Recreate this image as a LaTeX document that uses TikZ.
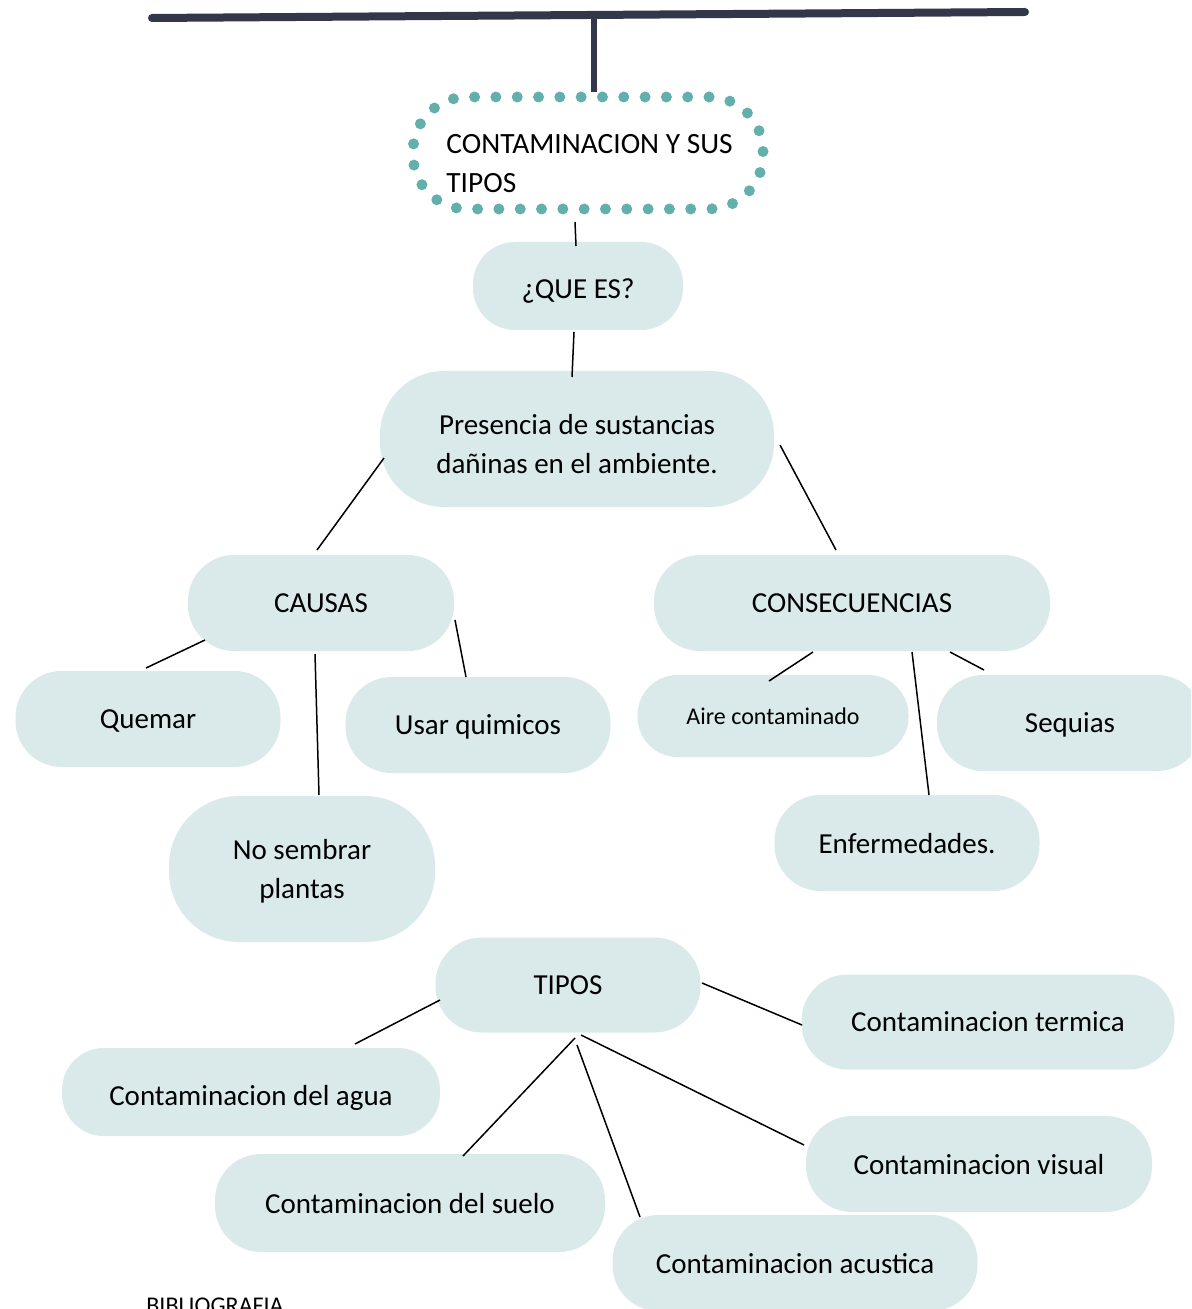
\documentclass[tikz,border=0pt]{standalone}
\usepackage{fontspec}
\setmainfont{Carlito}
\definecolor{pillfill}{HTML}{DAEAEA}
\definecolor{dotcol}{HTML}{63AFAC}
\definecolor{barcol}{HTML}{33374A}
\newcommand\lowr[2]{\raisebox{-#1}[\height][\depth]{#2}}
\begin{document}
\begin{tikzpicture}[x=0.5pt,y=-0.5pt,
  every node/.style={font=\fontsize{14.5pt}{19.5pt}\selectfont, inner sep=0pt},
  pill/.style n args={3}{fill=pillfill, minimum width=#1, minimum height=#2, rounded corners=#3, align=center, text depth=0pt},
  link/.style={draw=black, line width=0.75pt},
  bar/.style={draw=barcol, line cap=round}]
\useasboundingbox (0,0) rectangle (1191,1309);
\clip (0,0) rectangle (1191,1309);
% header
\coordinate (barL) at (152,18);
\coordinate (barR) at (1025,12);
\coordinate (barM) at (594,16);
\coordinate (barD) at (594,92);
\draw[bar, line width=4pt] (barL) -- (barR);
\draw[bar, line width=3pt, line cap=butt] (barM) -- (barD);
% title
\node[draw=dotcol, line width=5.5pt, line cap=round, dash pattern=on 0pt off 10.655pt,
      minimum width=175pt, minimum height=56pt, rounded corners=27pt] (title) at (588,153) {};
\node[anchor=west, align=left, font=\fontsize{14.7pt}{19.5pt}\selectfont] (titletext) at (446,164) {CONTAMINACION Y SUS\\TIPOS};
% nodes
\node[pill={105pt}{44pt}{21pt}] (quees) at (578,286) {\lowr{1.5pt}{¿QUE ES?}};
\node[pill={197pt}{68pt}{32pt}] (pres) at (577,439) {\lowr{2.5pt}{Presencia de sustancias}\\\lowr{2.5pt}{dañinas en el ambiente.}};
\node[pill={133pt}{48pt}{23pt}] (causas) at (321,603) {CAUSAS};
\node[pill={198pt}{48pt}{23pt}] (consec) at (852,603) {CONSECUENCIAS};
\node[pill={132.5pt}{48pt}{23pt}] (quemar) at (148,719) {Quemar};
\node[pill={132.5pt}{48pt}{23pt}] (usar) at (478,725) {Usar quimicos};
\node[pill={133pt}{73pt}{35pt}] (nosem) at (302,869) {No sembrar\\plantas};
\node[pill={135.5pt}{41pt}{20pt}, font=\fontsize{12pt}{14pt}\selectfont] (aire) at (773,716) {Aire contaminado};
\node[pill={133pt}{48pt}{23pt}] (sequias) at (1070,723) {Sequias};
\node[pill={132.5pt}{48pt}{23pt}] (enf) at (907,843) {Enfermedades.};
\node[pill={132.5pt}{47.5pt}{23pt}] (tipos) at (568,985) {TIPOS};
\node[pill={186.5pt}{47.5pt}{23pt}] (termica) at (988,1022) {Contaminacion termica};
\node[pill={189pt}{44pt}{21pt}] (agua) at (251,1092) {\lowr{1.5pt}{Contaminacion del agua}};
\node[pill={173pt}{48pt}{23pt}] (visual) at (979,1164) {Contaminacion visual};
\node[pill={195pt}{49pt}{23pt}] (suelo) at (410,1203) {Contaminacion del suelo};
\node[pill={182.5pt}{48pt}{23pt}] (acustica) at (795,1263) {Contaminacion acustica};
\node[anchor=base west, font=\fontsize{12pt}{14pt}\selectfont] (biblio) at (146,1313) {BIBLIOGRAFIA};
% connector end points
\coordinate (t1) at (575,222); \coordinate (t2) at (576,246);
\coordinate (q1) at (574,332); \coordinate (q2) at (572,377);
\coordinate (p1) at (384,458); \coordinate (p2) at (317,550);
\coordinate (p3) at (780,445); \coordinate (p4) at (836,550);
\coordinate (c1) at (205,640); \coordinate (c2) at (146,668);
\coordinate (c3) at (455,620); \coordinate (c4) at (466,677);
\coordinate (c5) at (315,654); \coordinate (c6) at (319,795);
\coordinate (s1) at (813,652); \coordinate (s2) at (769,681);
\coordinate (s3) at (912,652); \coordinate (s4) at (929,795);
\coordinate (s5) at (950,652); \coordinate (s6) at (984,670);
\coordinate (k1) at (440,1000); \coordinate (k2) at (355,1044);
\coordinate (k3) at (702,983); \coordinate (k4) at (802,1025);
\coordinate (k5) at (575,1038); \coordinate (k6) at (463,1156);
\coordinate (k7) at (577,1045); \coordinate (k8) at (640,1217);
\coordinate (k9) at (581,1035); \coordinate (k10) at (804,1145);
\draw[link] (t1) -- (t2);
\draw[link] (q1) -- (q2);
\draw[link] (p1) -- (p2);
\draw[link] (p3) -- (p4);
\draw[link] (c1) -- (c2);
\draw[link] (c3) -- (c4);
\draw[link] (c5) -- (c6);
\draw[link] (s1) -- (s2);
\draw[link] (s3) -- (s4);
\draw[link] (s5) -- (s6);
\draw[link] (k1) -- (k2);
\draw[link] (k3) -- (k4);
\draw[link] (k5) -- (k6);
\draw[link] (k7) -- (k8);
\draw[link] (k9) -- (k10);
\end{tikzpicture}
\end{document}
